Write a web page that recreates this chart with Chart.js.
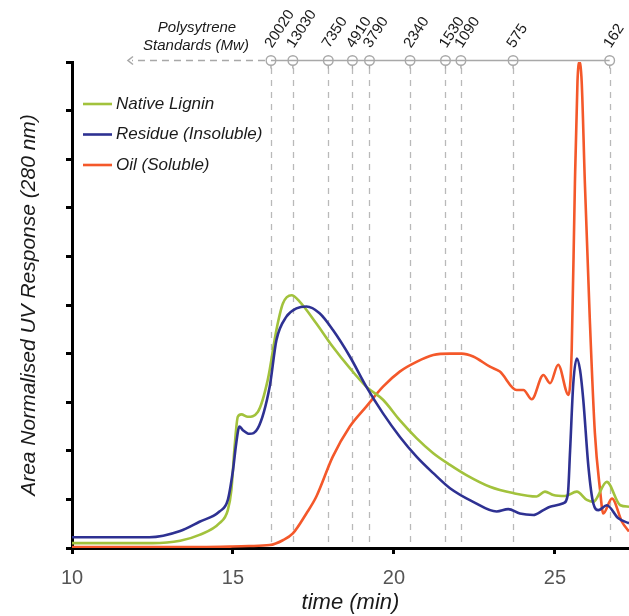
<!DOCTYPE html>
<html>
<head>
<meta charset="utf-8">
<script src="https://cdn.jsdelivr.net/npm/chart.js@4"></script>
<style>
  html, body { margin: 0; padding: 0; background: #fff; }
  #wrap { width: 629px; height: 616px; }
</style>
</head>
<body>
<div id="wrap"><canvas id="c" width="629" height="616"></canvas></div>
<script>
// ---------------- data ----------------
const seriesNames = ['Native Lignin', 'Residue (Insoluble)', 'Oil (Soluble)'];
const seriesColors = ['#a2c23c', '#2e3192', '#f4582a'];

const ligninT = [10, 12.5, 13.36, 13.96, 14.58, 14.84, 14.95, 15.05, 15.15, 15.26, 15.46, 15.77, 16.08, 16.35, 16.55, 16.82, 17.07, 17.59, 18.1, 18.63, 19.14, 19.66, 20.18, 20.7, 21.22, 21.74, 22.25, 22.98, 23.7, 24.43, 24.69, 24.95, 25.31, 25.68, 25.99, 26.19, 26.61, 27.03, 27.3];
const ligninV = [0.1, 0.1, 0.15, 0.27, 0.51, 0.78, 1.19, 2.08, 2.7, 2.75, 2.7, 2.8, 3.46, 4.49, 5.03, 5.2, 5.07, 4.62, 4.14, 3.7, 3.32, 3.05, 2.63, 2.26, 1.95, 1.71, 1.5, 1.26, 1.13, 1.06, 1.16, 1.09, 1.07, 1.16, 0.99, 0.95, 1.36, 0.88, 0.85];

const residueT = [10, 12.4, 13.36, 13.96, 14.58, 14.84, 15.0, 15.1, 15.2, 15.3, 15.51, 15.77, 16.14, 16.35, 16.66, 16.97, 17.28, 17.69, 18.1, 18.63, 19.14, 19.66, 20.18, 20.7, 21.22, 21.74, 22.46, 23.19, 23.55, 23.91, 24.33, 24.64, 24.85, 25.26, 25.4, 25.47, 25.57, 25.68, 25.78, 25.88, 26.04, 26.19, 26.35, 26.61, 26.97, 27.3];
const residueV = [0.22, 0.22, 0.35, 0.54, 0.75, 0.99, 1.6, 2.15, 2.5, 2.43, 2.35, 2.46, 3.32, 4.28, 4.76, 4.93, 4.97, 4.83, 4.49, 3.94, 3.32, 2.77, 2.29, 1.88, 1.54, 1.23, 0.95, 0.75, 0.8, 0.71, 0.68, 0.78, 0.85, 0.92, 1.1, 2.0, 3.39, 3.9, 3.66, 3.05, 1.67, 0.92, 0.78, 0.88, 0.61, 0.51];

const oilT = [10, 14.0, 14.98, 15.5, 16.14, 16.55, 16.86, 17.28, 17.59, 18.1, 18.63, 19.14, 19.66, 20.18, 20.7, 21.22, 21.74, 22.1, 22.46, 22.98, 23.29, 23.81, 24.02, 24.28, 24.64, 24.85, 25.1, 25.42, 25.52, 25.62, 25.7, 25.76, 25.83, 25.93, 26.08, 26.24, 26.4, 26.5, 26.77, 27.08, 27.3];
const oilV = [0.02, 0.02, 0.03, 0.04, 0.06, 0.16, 0.3, 0.71, 1.06, 1.88, 2.5, 2.91, 3.32, 3.63, 3.83, 3.97, 4.0, 4.0, 3.94, 3.73, 3.63, 3.25, 3.25, 3.06, 3.56, 3.39, 3.77, 3.15, 4.07, 7.5, 9.6, 10.0, 9.6, 7.5, 4.75, 2.37, 1.2, 0.71, 1.02, 0.54, 0.34];

// polystyrene standards: elution time (min) and Mw label
const stdTimes = [16.18, 16.86, 17.96, 18.71, 19.24, 20.5, 21.6, 22.08, 23.7, 26.7];
const stdLabels = ['20020', '13030', '7350', '4910', '3790', '2340', '1530', '1090', '575', '162'];

const xTicks = [10, 15, 20, 25];
const xMin = 10, xMax = 27.3;
const yMin = 0, yMax = 10;

// ---------------- chart ----------------
function pts(t, v) { return t.map((tt, i) => ({ x: tt, y: v[i] })); }

const ds = [pts(ligninT, ligninV), pts(residueT, residueV), pts(oilT, oilV)].map((d, i) => ({
  label: seriesNames[i],
  data: d,
  borderColor: seriesColors[i],
  backgroundColor: seriesColors[i],
  borderWidth: 2.6,
  pointRadius: 0,
  fill: false,
  cubicInterpolationMode: 'monotone'
}));
ds[0].order = 2; ds[1].order = 1; ds[2].order = 3;

const decor = {
  id: 'decor',
  beforeDatasetsDraw(chart) {
    const { ctx, chartArea, scales: { x, y } } = chart;
    const top = y.getPixelForValue(yMax);
    ctx.save();
    ctx.strokeStyle = '#b9b9b9';
    ctx.lineWidth = 1.3;
    ctx.setLineDash([6, 6]);
    stdTimes.forEach(t => {
      const px = Math.round(x.getPixelForValue(t)) + 0.5;
      ctx.beginPath();
      ctx.moveTo(px, top + 6);
      ctx.lineTo(px, chartArea.bottom - 2);
      ctx.stroke();
    });
    ctx.restore();

    // top standards line
    const ly = top - 1.5;
    const first = x.getPixelForValue(stdTimes[0]);
    const last = x.getPixelForValue(stdTimes[stdTimes.length - 1]);
    ctx.save();
    ctx.strokeStyle = '#a8a8a8';
    ctx.lineWidth = 1.6;
    ctx.beginPath();
    ctx.moveTo(first, ly); ctx.lineTo(last, ly);
    ctx.stroke();
    // dashed arrow to the left
    ctx.setLineDash([7, 5]);
    ctx.beginPath();
    ctx.moveTo(first - 6, ly); ctx.lineTo(chartArea.left + 60, ly);
    ctx.stroke();
    ctx.setLineDash([]);
    ctx.beginPath();
    ctx.moveTo(chartArea.left + 61, ly - 4);
    ctx.lineTo(chartArea.left + 56, ly);
    ctx.lineTo(chartArea.left + 61, ly + 4);
    ctx.stroke();
    // circles
    ctx.lineWidth = 1.4;
    stdTimes.forEach(t => {
      const px = x.getPixelForValue(t);
      ctx.beginPath();
      ctx.arc(px, ly, 4.8, 0, Math.PI * 2);
      ctx.stroke();
      ctx.beginPath();
      ctx.moveTo(px, ly + 4.8); ctx.lineTo(px, ly + 8);
      ctx.stroke();
    });
    // rotated labels
    ctx.fillStyle = '#1a1a1a';
    ctx.font = '15px "Liberation Sans", Arial, sans-serif';
    ctx.textAlign = 'left';
    ctx.textBaseline = 'middle';
    stdTimes.forEach((t, i) => {
      const px = x.getPixelForValue(t);
      ctx.save();
      ctx.translate(px - 2.5, ly - 14);
      ctx.rotate(-57 * Math.PI / 180);
      ctx.fillText(stdLabels[i], 0, 0);
      ctx.restore();
    });
    // caption
    ctx.font = 'italic 15px "Liberation Sans", Arial, sans-serif';
    ctx.textAlign = 'center';
    ctx.fillText('Polysytrene', first - 74, 28);
    ctx.fillText('Standards (Mw)', first - 75, 46);
    ctx.restore();
  },
  afterDatasetsDraw(chart) {
    const { ctx, chartArea } = chart;
    ctx.save();
    ctx.font = 'italic 17px "Liberation Sans", Arial, sans-serif';
    ctx.textAlign = 'left';
    ctx.textBaseline = 'middle';
    chart.data.datasets.forEach((d, i) => {
      const yy = 104 + i * 30.5;
      ctx.strokeStyle = d.borderColor;
      ctx.lineWidth = 2.6;
      ctx.beginPath();
      ctx.moveTo(chartArea.left + 11, yy);
      ctx.lineTo(chartArea.left + 40, yy);
      ctx.stroke();
      ctx.fillStyle = '#1a1a1a';
      ctx.fillText(d.label, chartArea.left + 44, yy);
    });
    ctx.restore();
  }
};

new Chart(document.getElementById('c'), {
  type: 'line',
  data: { datasets: ds },
  options: {
    responsive: false,
    animation: false,
    layout: { padding: { top: 62, right: 0, bottom: 0, left: 0 } },
    plugins: { legend: { display: false }, tooltip: { enabled: false } },
    scales: {
      x: {
        type: 'linear',
        min: xMin, max: xMax,
        afterFit(s) { s.height = 68; },
        afterBuildTicks(s) { s.ticks = xTicks.map(v => ({ value: v })); },
        ticks: {
          color: '#555',
          font: { size: 20, family: '"Liberation Sans", Arial, sans-serif' },
          padding: 12,
          maxRotation: 0
        },
        grid: { display: true, drawOnChartArea: false, drawTicks: true, tickLength: 6, color: '#000', lineWidth: 3 },
        border: { display: true, color: '#000', width: 3 },
        title: {
          display: true, text: 'time (min)', color: '#1a1a1a',
          font: { size: 22, style: 'italic', family: '"Liberation Sans", Arial, sans-serif' },
          padding: { top: 0, bottom: 0 }
        }
      },
      y: {
        min: yMin, max: yMax,
        afterFit(s) { s.width = 72; },
        ticks: { stepSize: 1, callback: () => '', padding: 0 },
        grid: { display: true, drawOnChartArea: false, drawTicks: true, tickLength: 6, color: '#000', lineWidth: 3 },
        border: { display: true, color: '#000', width: 3 },
        title: {
          display: true, text: 'Area Normalised UV Response (280 nm)', color: '#1a1a1a',
          font: { size: 21, style: 'italic', family: '"Liberation Sans", Arial, sans-serif' },
          padding: { top: 17, bottom: 0 }
        }
      }
    }
  },
  plugins: [decor]
});
</script>
</body>
</html>
